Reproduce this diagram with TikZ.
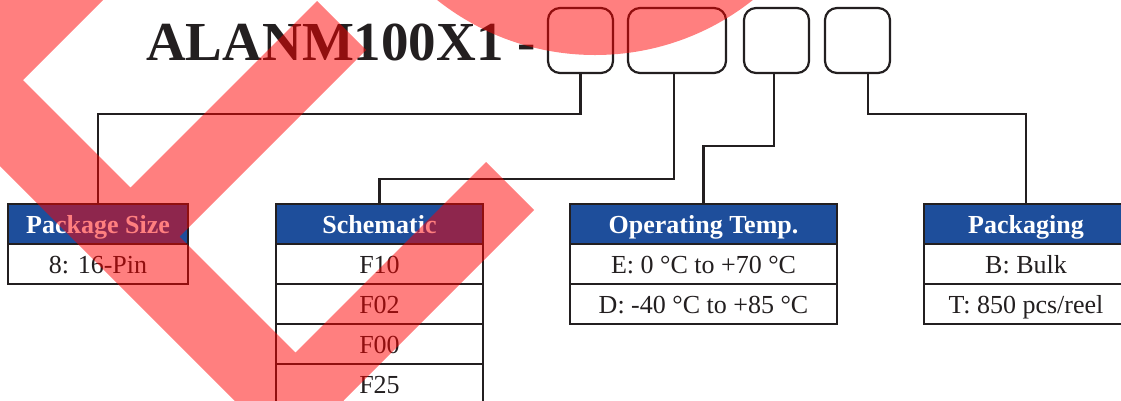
\documentclass[tikz,border=0pt]{standalone}
\usepackage{fontspec}
\setmainfont{Liberation Serif}
\definecolor{ink}{HTML}{231F20}
\definecolor{hdrblue}{HTML}{1E4E9B}
\begin{document}
\begin{tikzpicture}[x=1pt,y=-1pt,
  cell/.style={draw=ink, line width=2.2pt, rectangle, inner sep=0pt, minimum height=40pt,
    fill=white, text=ink, font=\fontsize{26}{30}\selectfont, text height=18pt, text depth=0pt},
  hdr/.style={cell, fill=hdrblue, text=white, font=\fontsize{26}{30}\selectfont\bfseries},
  slot/.style={draw=ink, line width=2.2pt, rounded corners=12pt, inner sep=0pt, minimum height=65pt},
  wire/.style={draw=ink, line width=2.2pt}]
\useasboundingbox (0,0) rectangle (1121,400);
\fill[white] (0,0) rectangle (1121,400);

% title
\node[anchor=base west, inner sep=0pt, text=ink, font=\fontsize{55}{60}\selectfont\bfseries] (title) at (146,60) {ALANM100X1 -};

% code slots
\node[slot, minimum width=65pt] (b1) at (580.5,40.5) {};
\node[slot, minimum width=98pt] (b2) at (677,40.5) {};
\node[slot, minimum width=65pt] (b3) at (776.5,40.5) {};
\node[slot, minimum width=65pt] (b4) at (857.5,40.5) {};

% tables
\node[hdr, minimum width=180pt] (pk) at (98,224) {Package Size};
\node[cell, minimum width=180pt] (pk1) at (98,264) {8: 16-Pin};

\node[hdr, minimum width=207pt] (sc) at (379.5,224) {Schematic};
\node[cell, minimum width=207pt] (sc1) at (379.5,264) {F10};
\node[cell, minimum width=207pt] (sc2) at (379.5,304) {F02};
\node[cell, minimum width=207pt] (sc3) at (379.5,344) {F00};
\node[cell, minimum width=207pt] (sc4) at (379.5,384) {F25};

\node[hdr, minimum width=267pt] (op) at (703.5,224) {Operating Temp.};
\node[cell, minimum width=267pt] (op1) at (703.5,264) {E: 0 °C to +70 °C};
\node[cell, minimum width=267pt] (op2) at (703.5,304) {D: -40 °C to +85 °C};

\node[hdr, minimum width=204pt] (pg) at (1026,224) {Packaging};
\node[cell, minimum width=204pt] (pg1) at (1026,264) {B: Bulk};
\node[cell, minimum width=204pt] (pg2) at (1026,304) {T: 850 pcs/reel};

% connectors
\draw[wire] (b1.south) -- ++(0,40) -| (pk.north);
\draw[wire] ([xshift=-3pt]b2.south) -- ++(0,105) -| (sc.north);
\draw[wire] ([xshift=-2.5pt]b3.south) -- ++(0,72) -| (op.north);
\draw[wire] ([xshift=10.5pt]b4.south) -- ++(0,40) -| (pg.north);

% red overlay
\begin{scope}
\clip (0,0) rectangle (1121,400);
\fill[red, opacity=0.5]
  (-60,-60) -- (163,-60) -- (-60,163) -- cycle
  (-100,-43) -- (400,457) -- (300,466) -- (-200,-34) -- cycle
  (317,1) -- (366,50) -- (153,263) -- (104,214) -- cycle
  (486,162) -- (534,210) -- (317,427) -- (269,379) -- cycle
  (595,-199) circle[radius=254pt];
\end{scope}
\end{tikzpicture}
\end{document}
